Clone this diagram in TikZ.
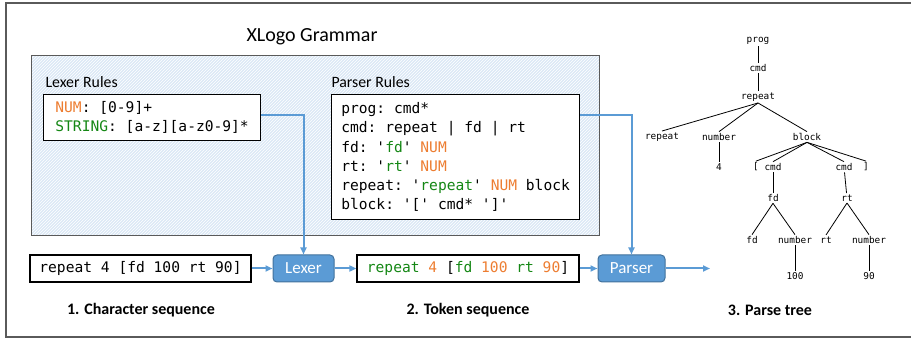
\documentclass[tikz,border=0pt]{standalone}
\usepackage{fontspec}
\setmainfont{Carlito}
\setmonofont{DejaVu Sans Mono}
\usetikzlibrary{arrows.meta,patterns}

\definecolor{tokorange}{RGB}{237,125,49}
\definecolor{tokgreen}{RGB}{20,135,20}
\definecolor{stageblue}{RGB}{91,155,213}
\definecolor{stageedge}{RGB}{65,113,156}
\definecolor{hatchfill}{RGB}{220,233,246}
\definecolor{framegray}{RGB}{90,90,90}

\newcommand{\tnum}[1]{\textcolor{tokorange}{#1}}
\newcommand{\tstr}[1]{\textcolor{tokgreen}{#1}}

\tikzset{
  codebox/.style={draw, line width=1.2pt, anchor=north west, align=left,
    inner xsep=7pt, font=\fontsize{14.6}{19.2}\selectfont\ttfamily},
  seqbox/.style={draw, line width=1.2pt, minimum height=27pt, inner sep=0pt,
    font=\fontsize{14.6}{17}\selectfont\ttfamily},
  stagebox/.style={draw=stageedge, fill=stageblue, rounded corners=4pt, line width=1pt,
    minimum height=27pt, inner sep=0pt, text=white, font=\fontsize{17}{20}\selectfont},
  steplabel/.style={font=\fontsize{16}{19}\selectfont\bfseries},
  flow/.style={draw=stageblue, line width=2pt, -{Triangle[length=7pt,width=6pt]}},
  tnode/.style={inner sep=1.5pt, font=\fontsize{9.4}{11}\selectfont\ttfamily},
  tedge/.style={line width=0.8pt},
}

\begin{document}
\begin{tikzpicture}[x=1pt, y=-1pt]
  \useasboundingbox (0,0) rectangle (911,339);

  % Rahmen (rechte Kante liegt ausserhalb)
  \draw[framegray, line width=1.2pt] (912,3) -| (6,337) -- (912,337);

  % Grammatik-Bereich
  \fill[hatchfill] (31,56) rectangle (599,236);
  \fill[pattern=north east lines, pattern color=white] (31,56) rectangle (599,236);
  \draw[framegray, line width=1pt] (31,56) rectangle (599,236);
  \node[font=\fontsize{20}{24}\selectfont] (title) at (312,37) {XLogo Grammar};

  \node[anchor=west, font=\fontsize{15.8}{19}\selectfont] (lexlbl) at (42,82) {Lexer Rules};
  \node[anchor=west, font=\fontsize{15.8}{19}\selectfont] (parlbl) at (328,82) {Parser Rules};

  \node[codebox, fill=white, minimum width=217pt, minimum height=46pt] (lexrules) at (43,94)
    {\tnum{NUM}: [0-9]+\\\tstr{STRING}: [a-z][a-z0-9]*};
  \node[codebox, fill=white, minimum width=248pt, minimum height=125pt] (parrules) at (331,94)
    {prog: cmd*\\
     cmd: repeat | fd | rt\\
     fd: '\tstr{fd}' \tnum{NUM}\\
     rt: '\tstr{rt}' \tnum{NUM}\\
     repeat: '\tstr{repeat}' \tnum{NUM} block\\
     block: '[' cmd* ']'};

  % Ablauf unten
  \node[seqbox, minimum width=221pt] (chars) at (140.5,268.5) {repeat 4 [fd 100 rt 90]};
  \node[stagebox, minimum width=61pt] (lexer) at (303.5,268.5) {Lexer};
  \node[seqbox, minimum width=222pt] (tokens) at (468,268.5)
    {\tstr{repeat} \tnum{4} [\tstr{fd} \tnum{100} \tstr{rt} \tnum{90}]};
  \node[stagebox, minimum width=67pt] (parser) at (631.5,268.5) {Parser};
  \coordinate (treein) at (710,268.5);

  \draw[flow] (chars) -- (lexer);
  \draw[flow] (lexer) -- (tokens);
  \draw[flow] (tokens) -- (parser);
  \draw[flow] (parser) -- (treein);
  \draw[flow] (lexrules.east |- 0,115) -| (lexer.north);
  \draw[flow] (parrules.east |- 0,115) -| (parser.north);

  \node[steplabel] (lbl1) at (141,310) {1. Character sequence};
  \node[steplabel] (lbl2) at (468,310) {2. Token sequence};
  \node[steplabel] (lbl3) at (770,310) {3. Parse tree};

  % Parse tree
  \node[tnode] (prog) at (758,41) {prog};
  \node[tnode] (cmd) at (758,68) {cmd};
  \node[tnode] (rep) at (758,97) {repeat};
  \node[tnode] (repkw) at (662,137) {repeat};
  \node[tnode] (numa) at (719,137) {number};
  \node[tnode] (block) at (807,137) {block};
  \node[tnode] (four) at (719,167) {4};
  \node[tnode] (lbr) at (756,167) {[};
  \node[tnode] (cmda) at (773,167) {cmd};
  \node[tnode] (cmdb) at (844,167) {cmd};
  \node[tnode] (rbr) at (866,167) {]};
  \node[tnode] (fd) at (773,198) {fd};
  \node[tnode] (rt) at (847,198) {rt};
  \node[tnode] (fdkw) at (752,240) {fd};
  \node[tnode] (numb) at (795,240) {number};
  \node[tnode] (rtkw) at (826,240) {rt};
  \node[tnode] (numc) at (869,240) {number};
  \node[tnode] (hundred) at (795,276) {100};
  \node[tnode] (ninety) at (869,276) {90};

  \draw[tedge] (prog) -- (cmd);
  \draw[tedge] (cmd) -- (rep);
  \foreach \c in {repkw,numa,block}
    \draw[tedge] (rep.south) -- (\c.north);
  \draw[tedge] (numa) -- (four);
  \foreach \c in {lbr,cmda,cmdb,rbr}
    \draw[tedge] (block.south) -- (\c.north);
  \draw[tedge] (cmda) -- (fd);
  \draw[tedge] (cmdb) -- (rt);
  \draw[tedge] (fd.south) -- (fdkw.north);
  \draw[tedge] (fd.south) -- (numb.north);
  \draw[tedge] (rt.south) -- (rtkw.north);
  \draw[tedge] (rt.south) -- (numc.north);
  \draw[tedge] (numb) -- (hundred);
  \draw[tedge] (numc) -- (ninety);
\end{tikzpicture}
\end{document}
